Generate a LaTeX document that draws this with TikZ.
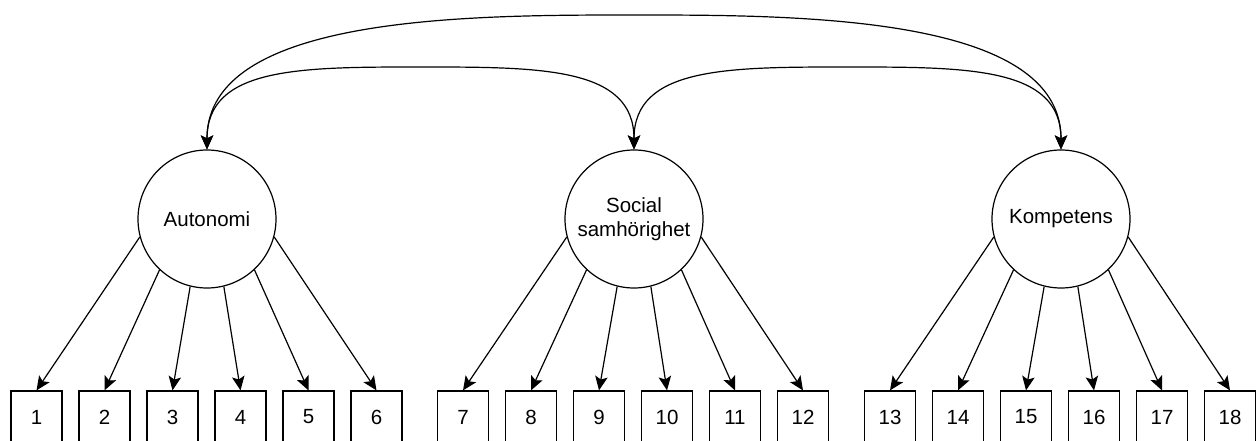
\documentclass[tikz,border=0pt]{standalone}
\usepackage{fontspec}
\setmainfont{Liberation Sans}
\usetikzlibrary{arrows.meta}
\begin{document}
\begin{tikzpicture}[x=1pt,y=-1pt,
  latent/.style={circle,draw,line width=1.2pt,minimum size=138pt,inner sep=0pt,
    font=\fontsize{20.5}{24}\selectfont,align=center},
  item/.style={rectangle,draw,line width=1.2pt,minimum width=51pt,minimum height=52pt,
    inner sep=0pt,font=\fontsize{20.5}{24}\selectfont},
  load/.style={-{Stealth[length=14pt,width=12.5pt,inset=3pt]},line width=1.2pt},
  cov/.style={{Stealth[length=14pt,width=12.5pt,inset=3pt]}-{Stealth[length=14pt,width=12.5pt,inset=3pt]},line width=1.2pt}]
\useasboundingbox (0,0) rectangle (1259,441);
\node[latent] (aut) at (207,219) {Autonomi};
\node[latent] (soc) at (634,219) {Social\\samhörighet};
\node[latent] (komp) at (1061,219) {Kompetens};
\foreach \g/\cx/\lat in {0/36.5/aut, 1/463/soc, 2/890/komp} {
  \foreach \k/\a in {1/195,2/227,3/256,4/284,5/313,6/345} {
    \pgfmathtruncatemacro\n{6*\g+\k}
    \node[item] (i\n) at ({\cx+68*(\k-1)},417) {\n};
    \draw[load] (\lat.\a) -- (i\n.north);
  }
}
\draw[cov] (aut.north) .. controls (207,67) and (300,67) .. (420.5,67)
  .. controls (541,67) and (634,67) .. (soc.north);
\draw[cov] (soc.north) .. controls (634,67) and (727,67) .. (847.5,67)
  .. controls (968,67) and (1061,67) .. (komp.north);
\draw[cov] (aut.north) .. controls (207,15) and (470,15) .. (634,15)
  .. controls (798,15) and (1061,15) .. (komp.north);
\end{tikzpicture}
\end{document}
